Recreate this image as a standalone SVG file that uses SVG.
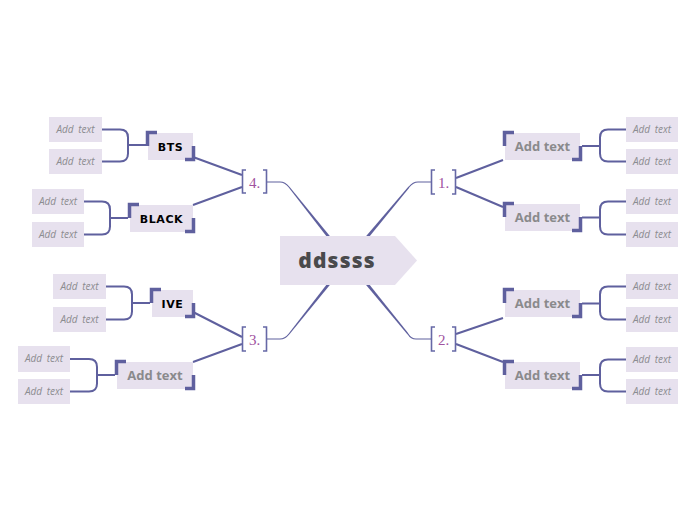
<svg xmlns="http://www.w3.org/2000/svg" width="696" height="520" viewBox="0 0 696 520">
<style>
.ln{fill:none;stroke:#5f609e;stroke-width:2}
.thin{fill:none;stroke:#5f609e;stroke-width:1.2}
.tap{fill:#5f609e}
.box{fill:#e7e1ee}
.corner{fill:none;stroke:#5f609e;stroke-width:3.5}
.brk{fill:none;stroke:#6668a6;stroke-width:1.6}
.num{font-family:"Liberation Serif",serif;font-size:15px;fill:#a052a0}
.sub{font-family:"Open Sans","Liberation Sans",sans-serif;font-weight:bold;font-size:13px;fill:#8a8a8c}
.blk{font-family:"DejaVu Sans",sans-serif;font-weight:bold;font-size:11px;fill:#000;letter-spacing:0.6px}
.leaf{font-family:"Open Sans","Liberation Sans",sans-serif;font-style:italic;font-weight:400;font-size:10px;fill:#8c8c90;word-spacing:2px}
.ctr{font-family:"Open Sans","Liberation Sans",sans-serif;font-weight:800;font-size:21px;fill:#4a4a4c;letter-spacing:1.2px}
</style>
<rect width="696" height="520" fill="#ffffff"/>
<g id="connectors">
  <path class="thin" d="M267,182 H280 Q285,182 289,187"/>
  <polygon class="tap" points="289.47,186.63 335.17,242.57 332.83,244.43 288.53,187.37"/>
  <path class="thin" d="M431,182 H418 Q413,182 409,187"/>
  <polygon class="tap" points="409.46,187.39 363.15,244.16 360.85,242.24 408.54,186.61"/>
  <path class="thin" d="M267,339 H280 Q285,339 289,334"/>
  <polygon class="tap" points="289.47,334.37 335.17,278.43 332.83,276.57 288.53,333.63"/>
  <path class="thin" d="M431,339 H416 Q411,339 408,334"/>
  <polygon class="tap" points="408.47,333.62 363.16,276.75 360.84,278.65 407.53,334.38"/>
  <path class="ln" d="M456,178 L503,160 M456,187 L503,207"/>
  <path class="ln" d="M456,334 L503,318 M456,344 L503,362"/>
  <path class="ln" d="M242,175 L193,157 M242,187 L193,205"/>
  <path class="ln" d="M242,337 L193,312 M242,344 L193,362"/>
  <path class="ln" d="M582,146 H600 M626,129.5 H608 Q600,129.5 600,137.5 V153.5 Q600,161.5 608,161.5 H626"/>
  <path class="ln" d="M582,217.5 H600 M626,201.5 H608 Q600,201.5 600,209.5 V226.5 Q600,234.5 608,234.5 H626"/>
  <path class="ln" d="M582,303.5 H600 M626,286.5 H608 Q600,286.5 600,294.5 V311.5 Q600,319.5 608,319.5 H626"/>
  <path class="ln" d="M582,375 H600 M626,359.5 H608 Q600,359.5 600,367.5 V383.5 Q600,391.5 608,391.5 H626"/>
  <path class="ln" d="M146,145 H128 M102,129.5 H120 Q128,129.5 128,137.5 V153.5 Q128,161.5 120,161.5 H102"/>
  <path class="ln" d="M128,218 H110 M84,201.5 H102 Q110,201.5 110,209.5 V226.5 Q110,234.5 102,234.5 H84"/>
  <path class="ln" d="M150,303 H132 M106,286.5 H124 Q132,286.5 132,294.5 V311.5 Q132,319.5 124,319.5 H106"/>
  <path class="ln" d="M115,375 H97 M70,359 H89 Q97,359 97,367 V383.5 Q97,391.5 89,391.5 H70"/>
</g>
<g id="center">
  <path class="box" d="M280,236 H395 L417,260.5 L395,285 H280 Z"/>
  <text class="ctr" x="337" y="268" text-anchor="middle">ddssss</text>
</g>
<g id="b1">
  <path class="brk" d="M435,170 H431.5 V194 H435 M452,170 H455.5 V194 H452"/>
  <text class="num" x="443.5" y="188" text-anchor="middle">1.</text>
</g>
<g id="b2">
  <path class="brk" d="M435,327 H431.5 V351 H435 M452,327 H455.5 V351 H452"/>
  <text class="num" x="443.5" y="345" text-anchor="middle">2.</text>
</g>
<g id="b3">
  <path class="brk" d="M246,327 H242.5 V351 H246 M263,327 H266.5 V351 H263"/>
  <text class="num" x="254.5" y="345" text-anchor="middle">3.</text>
</g>
<g id="b4">
  <path class="brk" d="M246,170 H242.5 V193 H246 M263,170 H266.5 V193 H263"/>
  <text class="num" x="254.5" y="188" text-anchor="middle">4.</text>
</g>
<g id="n1a">
  <rect class="box" x="505" y="133" width="75" height="27"/>
  <path class="corner" d="M504.5,146 V132.5 H514"/>
  <path class="corner" d="M572,159.5 H580.5 V146"/>
  <text class="sub" x="542.5" y="151" text-anchor="middle">Add text</text>
</g>
<g id="n1b">
  <rect class="box" x="505" y="204" width="75" height="27"/>
  <path class="corner" d="M504.5,217 V203.5 H514"/>
  <path class="corner" d="M572,230.5 H580.5 V217"/>
  <text class="sub" x="542.5" y="222" text-anchor="middle">Add text</text>
</g>
<g id="n2a">
  <rect class="box" x="505" y="290" width="75" height="27"/>
  <path class="corner" d="M504.5,303 V289.5 H514"/>
  <path class="corner" d="M572,316.5 H580.5 V303"/>
  <text class="sub" x="542.5" y="308" text-anchor="middle">Add text</text>
</g>
<g id="n2b">
  <rect class="box" x="505" y="362" width="75" height="27"/>
  <path class="corner" d="M504.5,375 V361.5 H514"/>
  <path class="corner" d="M572,388.5 H580.5 V375"/>
  <text class="sub" x="542.5" y="380" text-anchor="middle">Add text</text>
</g>
<g id="n4a">
  <rect class="box" x="148" y="133" width="45" height="27"/>
  <path class="corner" d="M147.5,146 V132.5 H157"/>
  <path class="corner" d="M185,159.5 H193.5 V146"/>
  <text class="blk" x="170.5" y="151" text-anchor="middle">BTS</text>
</g>
<g id="n4b">
  <rect class="box" x="130" y="205" width="63" height="27"/>
  <path class="corner" d="M129.5,218 V204.5 H139"/>
  <path class="corner" d="M185,231.5 H193.5 V218"/>
  <text class="blk" x="161.5" y="223" text-anchor="middle">BLACK</text>
</g>
<g id="n3a">
  <rect class="box" x="152" y="290" width="41" height="27"/>
  <path class="corner" d="M151.5,303 V289.5 H161"/>
  <path class="corner" d="M185,316.5 H193.5 V303"/>
  <text class="blk" x="172.5" y="308" text-anchor="middle">IVE</text>
</g>
<g id="n3b">
  <rect class="box" x="117" y="362" width="76" height="27"/>
  <path class="corner" d="M116.5,375 V361.5 H126"/>
  <path class="corner" d="M185,388.5 H193.5 V375"/>
  <text class="sub" x="155" y="380" text-anchor="middle">Add text</text>
</g>
<g id="leaves-right">
  <g id="l1"><rect class="box" x="626" y="117" width="52" height="25"/><text class="leaf" x="652" y="133" text-anchor="middle">Add text</text></g>
  <g id="l2"><rect class="box" x="626" y="149" width="52" height="25"/><text class="leaf" x="652" y="165" text-anchor="middle">Add text</text></g>
  <g id="l3"><rect class="box" x="626" y="189" width="52" height="25"/><text class="leaf" x="652" y="205" text-anchor="middle">Add text</text></g>
  <g id="l4"><rect class="box" x="626" y="222" width="52" height="25"/><text class="leaf" x="652" y="238" text-anchor="middle">Add text</text></g>
  <g id="l5"><rect class="box" x="626" y="274" width="52" height="25"/><text class="leaf" x="652" y="290" text-anchor="middle">Add text</text></g>
  <g id="l6"><rect class="box" x="626" y="307" width="52" height="25"/><text class="leaf" x="652" y="323" text-anchor="middle">Add text</text></g>
  <g id="l7"><rect class="box" x="626" y="347" width="52" height="25"/><text class="leaf" x="652" y="363" text-anchor="middle">Add text</text></g>
  <g id="l8"><rect class="box" x="626" y="379" width="52" height="25"/><text class="leaf" x="652" y="395" text-anchor="middle">Add text</text></g>
</g>
<g id="leaves-left">
  <g id="l9"><rect class="box" x="49" y="117" width="53" height="25"/><text class="leaf" x="75.5" y="133" text-anchor="middle">Add text</text></g>
  <g id="l10"><rect class="box" x="49" y="149" width="53" height="25"/><text class="leaf" x="75.5" y="165" text-anchor="middle">Add text</text></g>
  <g id="l11"><rect class="box" x="32" y="189" width="52" height="25"/><text class="leaf" x="58" y="205" text-anchor="middle">Add text</text></g>
  <g id="l12"><rect class="box" x="32" y="222" width="52" height="25"/><text class="leaf" x="58" y="238" text-anchor="middle">Add text</text></g>
  <g id="l13"><rect class="box" x="53" y="274" width="53" height="25"/><text class="leaf" x="79.5" y="290" text-anchor="middle">Add text</text></g>
  <g id="l14"><rect class="box" x="53" y="307" width="53" height="25"/><text class="leaf" x="79.5" y="323" text-anchor="middle">Add text</text></g>
  <g id="l15"><rect class="box" x="18" y="346" width="52" height="26"/><text class="leaf" x="44" y="362" text-anchor="middle">Add text</text></g>
  <g id="l16"><rect class="box" x="18" y="379" width="52" height="25"/><text class="leaf" x="44" y="395" text-anchor="middle">Add text</text></g>
</g>
</svg>
